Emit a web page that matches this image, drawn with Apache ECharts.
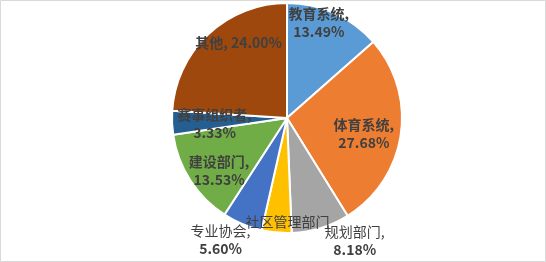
<!DOCTYPE html>
<html><head><meta charset="utf-8">
<script src="https://cdn.jsdelivr.net/npm/echarts@6/dist/echarts.min.js"></script>
<style>html,body{margin:0;padding:0;background:#fff}#c{width:546px;height:262px}</style>
</head><body><div id="c"></div>
<script>
const categories = ['教育系统','体育系统','规划部门','社区管理部门','专业协会','建设部门','赛事组织者','其他'];
const values = [13.49, 27.68, 8.18, 4.19, 5.60, 13.53, 3.33, 24.00];
const colors = ['#5B9BD5','#ED7D31','#A5A5A5','#FFC000','#4472C4','#70AD47','#255E91','#9E480E'];
// label nudges (style only)
const labelOffsets = [[7,-40],[17,7],[50,65],[6,43],[-43,66],[-17,20],[-12,3],[-7,-31]];
const labelModes = ['two','two','twoLight','name','twoLight','two','two','one'];

const chart = echarts.init(document.getElementById('c'), null, {renderer:'canvas'});
const data = categories.map((n,i)=>({
  name:n, value:values[i], itemStyle:{color:colors[i]}, label:{offset:labelOffsets[i]}
}));
chart.setOption({
  animation:false,
  graphic:[{type:'rect',shape:{x:0.5,y:0.5,width:545,height:261},style:{fill:'none',stroke:'#D9D9D9',lineWidth:1},silent:true}],
  series:[{
    type:'pie',
    center:[287,118],
    radius:[0,115],
    startAngle:90,
    clockwise:true,
    avoidLabelOverlap:false,
    labelLayout:{hideOverlap:false},
    data:data,
    itemStyle:{borderColor:'#fff',borderWidth:2},
    label:{
      show:true,
      position:'inside',
      color:'#404040',
      fontFamily:'Noto Sans CJK SC',
      fontWeight:'bold',
      fontSize:14,
      lineHeight:18,
      textBorderWidth:0,
      rich:{
        n:{fontWeight:'normal',fontSize:14,lineHeight:18,color:'#404040',fontFamily:'Noto Sans CJK SC'},
        v:{fontWeight:'bold',fontSize:14,lineHeight:18,color:'#404040',fontFamily:'Noto Sans CJK SC'}
      },
      formatter:function(p){
        const m = labelModes[p.dataIndex];
        const v = p.value.toFixed(2)+'%';
        if(m==='name') return '{n|'+p.name+'}';
        if(m==='one') return p.name+', '+v;
        if(m==='twoLight') return '{n|'+p.name+',}\n{v|'+v+'}';
        return p.name+',\n'+v;
      }
    },
    labelLine:{show:false}
  }]
});
</script></body></html>
